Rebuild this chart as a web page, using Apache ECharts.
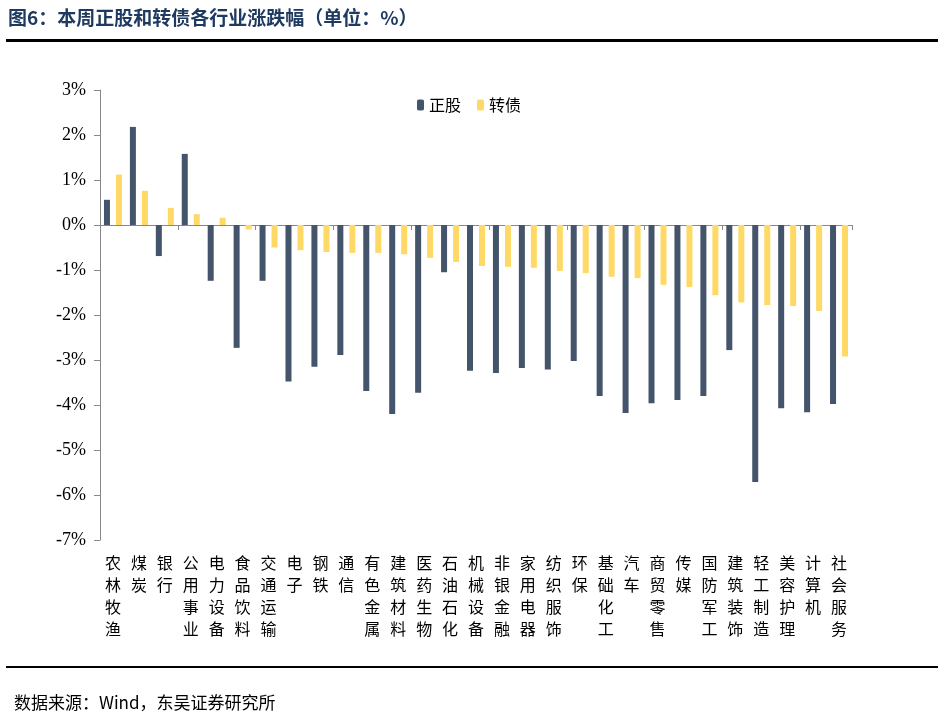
<!DOCTYPE html>
<html>
<head>
<meta charset="utf-8">
<script src="https://cdn.jsdelivr.net/npm/echarts@6/dist/echarts.min.js"></script>
<style>html,body{margin:0;padding:0;background:#fff}#main{width:944px;height:724px}</style>
</head>
<body>
<div id="main"></div>
<script>
var categories = ['农林牧渔', '煤炭', '银行', '公用事业', '电力设备', '食品饮料', '交通运输', '电子', '钢铁', '通信',
  '有色金属', '建筑材料', '医药生物', '石油石化', '机械设备', '非银金融', '家用电器', '纺织服饰', '环保', '基础化工',
  '汽车', '商贸零售', '传媒', '国防军工', '建筑装饰', '轻工制造', '美容护理', '计算机', '社会服务'];
var stockValues = [0.56, 2.18, -0.69, 1.58, -1.24, -2.73, -1.24, -3.48, -3.15, -2.89,
  -3.69, -4.2, -3.73, -1.05, -3.24, -3.29, -3.18, -3.21, -3.02, -3.8,
  -4.18, -3.96, -3.89, -3.8, -2.78, -5.71, -4.07, -4.16, -3.98];
var bondValues = [1.12, 0.76, 0.38, 0.24, 0.16, -0.1, -0.5, -0.56, -0.6, -0.62,
  -0.62, -0.65, -0.73, -0.82, -0.91, -0.93, -0.95, -1.02, -1.07, -1.15,
  -1.18, -1.33, -1.38, -1.56, -1.72, -1.78, -1.8, -1.91, -2.92];

var chart = echarts.init(document.getElementById('main'));
var cjk = '"Noto Sans CJK SC", sans-serif';
var serif = '"Liberation Serif", "Times New Roman", serif';

var option = {
  animation: false,
  color: ['#44546A', '#FFD966'],
  legend: {
    top: 92, left: 412,
    itemWidth: 7, itemHeight: 11, itemGap: 16,
    textStyle: { fontFamily: cjk, fontSize: 16, color: '#000' },
    data: ['正股', '转债']
  },
  grid: { left: 100, right: 92, top: 90, bottom: 184 },
  xAxis: [
    {
      type: 'category', data: categories,
      axisLine: { onZero: true, lineStyle: { color: '#888' } },
      axisTick: { show: true, length: 5, lineStyle: { color: '#888' } },
      axisLabel: { show: false }
    },
    {
      type: 'category', data: categories, position: 'bottom',
      axisLine: { show: false, onZero: false }, axisTick: { show: false },
      axisLabel: {
        interval: 0, margin: 12, lineHeight: 22,
        fontFamily: cjk, fontSize: 16, color: '#000',
        formatter: function (v) { return v.split('').join('\n'); }
      }
    }
  ],
  yAxis: {
    type: 'value', min: -7, max: 3, interval: 1,
    splitLine: { show: false },
    axisLine: { show: true, lineStyle: { color: '#888' } },
    axisTick: { show: true, length: 6, lineStyle: { color: '#888' } },
    axisLabel: { fontFamily: serif, fontSize: 18, color: '#000', margin: 14, formatter: '{value}%' }
  },
  series: [
    { name: '正股', type: 'bar', data: stockValues, barWidth: 6, barGap: '100%' },
    { name: '转债', type: 'bar', data: bondValues, barWidth: 6 }
  ],
  graphic: [
    { type: 'text', left: 8, top: 8, style: { text: '图6：本周正股和转债各行业涨跌幅（单位：%）', fill: '#1F3A60', font: 'bold 19px "Noto Sans CJK SC"' } },
    { type: 'rect', shape: { x: 6, y: 39, width: 932, height: 3 }, style: { fill: '#000' } },
    { type: 'rect', shape: { x: 6, y: 666, width: 932, height: 2 }, style: { fill: '#000' } },
    { type: 'text', left: 14, top: 694, style: { text: '数据来源：Wind，东吴证券研究所', fill: '#000', font: '17px "Noto Sans CJK SC"' } }
  ]
};
chart.setOption(option);
</script>
</body>
</html>
